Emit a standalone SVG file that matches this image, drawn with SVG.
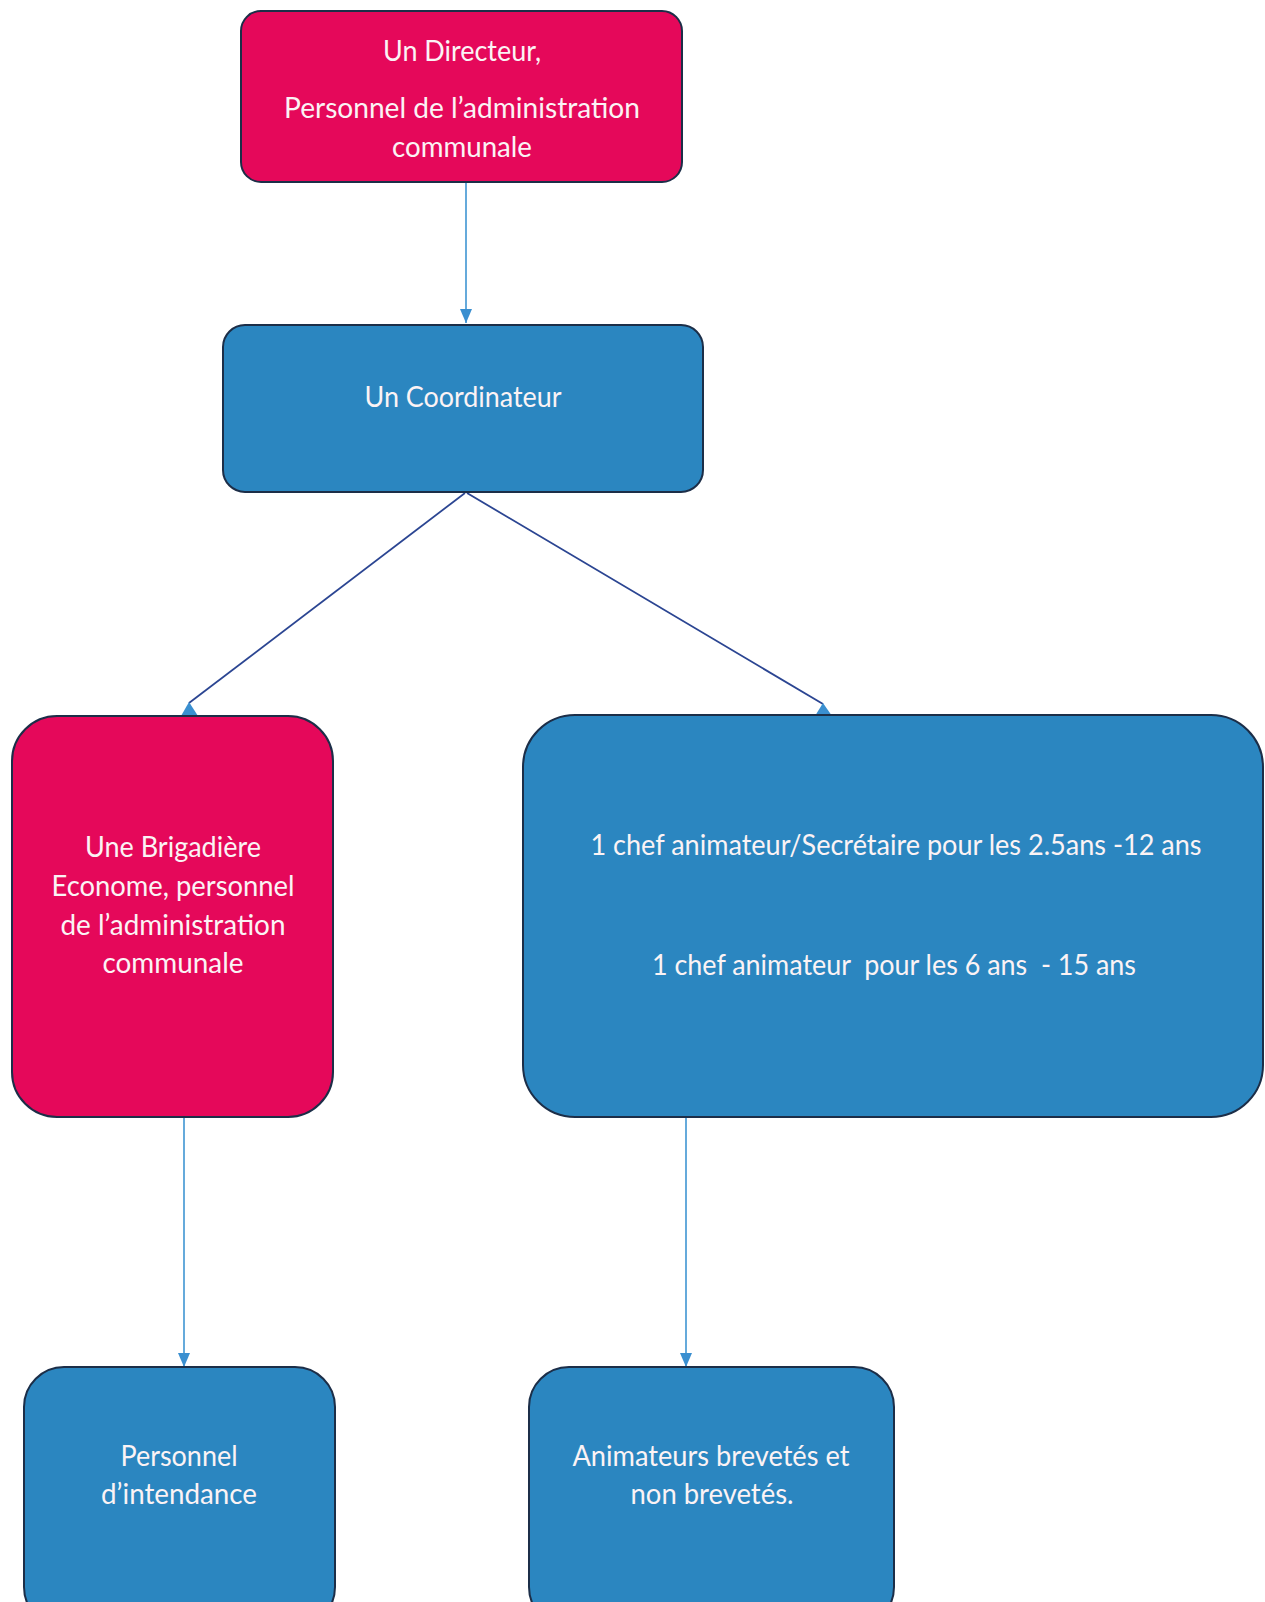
<svg xmlns="http://www.w3.org/2000/svg" width="1265" height="1602" viewBox="0 0 1265 1602">
<style>
.box{stroke:#1c2e48;stroke-width:2}
.pink{fill:#e5085a}
.blue{fill:#2b86c0}
.t{font-family:Lato,"Open Sans","Liberation Sans",sans-serif;font-size:28px;fill:#fbf3f5;text-anchor:middle;white-space:pre}
.v{stroke:#3f95d2;stroke-width:1.6;fill:none}
.d{stroke:#2b4592;stroke-width:1.8;fill:none}
.head{fill:#3a8fd0}
</style>
<defs>
<marker id="arr" viewBox="0 0 14 12" refX="14" refY="6" markerWidth="14" markerHeight="12" markerUnits="userSpaceOnUse" orient="auto">
<path d="M0,0 L14,6 L0,12 Z" fill="#3a8fd0"/>
</marker>
</defs>
<g id="connectors">
<line class="v" x1="466" y1="182" x2="466" y2="323" marker-end="url(#arr)"/>
<line class="d" x1="465" y1="493" x2="189" y2="703"/>
<polygon class="head" points="189,702 181,716 198,716"/>
<line class="d" x1="467" y1="493" x2="823" y2="704"/>
<polygon class="head" points="823,703 815,716 832,716"/>
<line class="v" x1="184" y1="1117" x2="184" y2="1367" marker-end="url(#arr)"/>
<line class="v" x1="686" y1="1117" x2="686" y2="1367" marker-end="url(#arr)"/>
</g>
<g id="directeur">
<rect class="box pink" x="241" y="11" width="441" height="171" rx="20"/>
<text class="t" x="462" y="61" textLength="158" lengthAdjust="spacingAndGlyphs">Un Directeur,</text>
<text class="t" x="462" y="118" textLength="356" lengthAdjust="spacingAndGlyphs">Personnel de l’administration</text>
<text class="t" x="462" y="157" textLength="140" lengthAdjust="spacingAndGlyphs">communale</text>
</g>
<g id="coordinateur">
<rect class="box blue" x="223" y="325" width="480" height="167" rx="22"/>
<text class="t" x="463" y="407" textLength="197" lengthAdjust="spacingAndGlyphs">Un Coordinateur</text>
</g>
<g id="brigadiere">
<rect class="box pink" x="12" y="716" width="321" height="401" rx="45"/>
<text class="t" x="173" y="857" textLength="176" lengthAdjust="spacingAndGlyphs">Une Brigadière</text>
<text class="t" x="173" y="896" textLength="243" lengthAdjust="spacingAndGlyphs">Econome, personnel</text>
<text class="t" x="173" y="935" textLength="225" lengthAdjust="spacingAndGlyphs">de l’administration</text>
<text class="t" x="173" y="973" textLength="141" lengthAdjust="spacingAndGlyphs">communale</text>
</g>
<g id="chefs">
<rect class="box blue" x="523" y="715" width="740" height="402" rx="52"/>
<text class="t" x="896" y="855" textLength="611" lengthAdjust="spacingAndGlyphs">1 chef animateur/Secrétaire pour les 2.5ans -12 ans</text>
<text class="t" x="894" y="975" textLength="484" lengthAdjust="spacingAndGlyphs" xml:space="preserve">1 chef animateur  pour les 6 ans  - 15 ans</text>
</g>
<g id="intendance">
<rect class="box blue" x="24" y="1367" width="311" height="260" rx="40"/>
<text class="t" x="179" y="1466" textLength="117" lengthAdjust="spacingAndGlyphs">Personnel</text>
<text class="t" x="179" y="1504" textLength="156" lengthAdjust="spacingAndGlyphs">d’intendance</text>
</g>
<g id="animateurs">
<rect class="box blue" x="529" y="1367" width="365" height="260" rx="40"/>
<text class="t" x="711" y="1466" textLength="277" lengthAdjust="spacingAndGlyphs">Animateurs brevetés et</text>
<text class="t" x="712" y="1504" textLength="163" lengthAdjust="spacingAndGlyphs">non brevetés.</text>
</g>
</svg>
